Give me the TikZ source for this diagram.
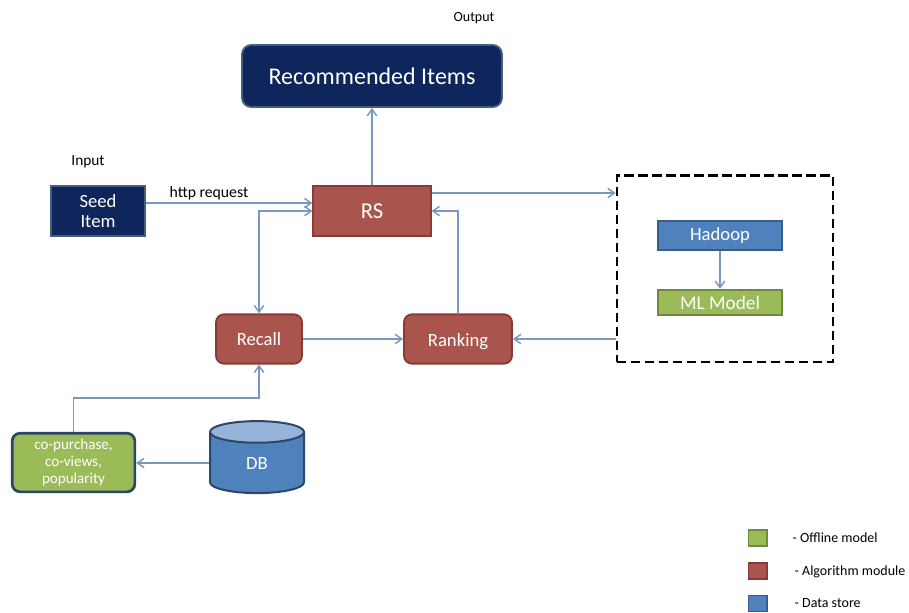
\documentclass[tikz,border=0pt]{standalone}
\usepackage{fontspec}
\setmainfont{Carlito}
\usetikzlibrary{arrows.meta, shapes.geometric}
\definecolor{navyfill}{RGB}{14,38,92}
\definecolor{navyline}{RGB}{70,92,128}
\definecolor{algofill}{RGB}{170,84,78}
\definecolor{algoline}{RGB}{138,58,54}
\definecolor{offfill}{RGB}{155,187,89}
\definecolor{offline}{RGB}{113,137,63}
\definecolor{datafill}{RGB}{79,129,189}
\definecolor{dataline}{RGB}{56,93,138}
\definecolor{datatop}{RGB}{150,180,218}
\definecolor{darkline}{RGB}{44,70,104}
\definecolor{linkcol}{RGB}{120,152,192}
\tikzset{barb/.tip = {Straight Barb[length = 5pt, width = 7pt]}}

\begin{document}
\begin{tikzpicture}[x = 0.75pt, y = -0.75pt,
    box/.style = {draw, line width = 1.4pt, inner sep = 0pt, align = center, text = white},
    navybox/.style = {box, fill = navyfill, draw = navyline},
    algobox/.style = {box, fill = algofill, draw = algoline},
    offbox/.style = {box, fill = offfill, draw = offline},
    databox/.style = {box, fill = datafill, draw = dataline},
    legendbox/.style = {draw, line width = 1pt, minimum width = 14pt, minimum height = 12pt},
    legendtext/.style = {anchor = west, font = \fontsize{10.5}{12}\selectfont},
    link/.style = {draw = linkcol, line width = 1.1pt, -barb}]
    % Margini
    \useasboundingbox (0,0) rectangle (909,612);
    % Output
    \node (outlabel) at (474,18) {\fontsize{10.5}{12}\selectfont Output};
    \node[navybox, rounded corners = 7pt, minimum width = 195pt, minimum height = 46.5pt,
        font = \fontsize{18}{20}\selectfont] (items) at (372,76) {Recommended Items};
    % Input
    \node (inlabel) at (88,162) {\fontsize{11.5}{13}\selectfont Input};
    \node[navybox, minimum width = 70pt, minimum height = 37pt,
        font = \fontsize{14}{14.5}\selectfont] (seed) at (98,211) {Seed\\Item};
    % Moduli dell'algoritmo
    \node[algobox, minimum width = 88pt, minimum height = 37pt,
        font = \fontsize{17}{19}\selectfont] (rs) at (372,211) {RS};
    \node[algobox, rounded corners = 6pt, minimum width = 64.5pt, minimum height = 37pt,
        font = \fontsize{14}{16}\selectfont] (recall) at (259,339) {Recall};
    \node[algobox, rounded corners = 6pt, minimum width = 81pt, minimum height = 37pt,
        text depth = 0pt, font = \fontsize{14}{16}\selectfont] (ranking) at (458,339) {Ranking\strut};
    % Blocco offline
    \node[draw, line width = 2pt, dash pattern = on 7pt off 3.5pt,
        minimum width = 162pt, minimum height = 140pt] (offlinebox) at (725,268.5) {};
    \node[databox, minimum width = 93pt, minimum height = 22pt,
        font = \fontsize{14}{16}\selectfont] (hadoop) at (720,235.5) {Hadoop};
    \node[offbox, minimum width = 93pt, minimum height = 19pt,
        font = \fontsize{14.5}{16}\selectfont] (mlmodel) at (720,302.5) {ML Model};
    % Dati
    \node[offbox, draw = darkline, line width = 2pt, rounded corners = 6pt,
        minimum width = 92pt, minimum height = 44pt,
        font = \fontsize{11.3}{12.5}\selectfont] (copurchase) at (73.5,462.5) {co-purchase,\\co-views,\\popularity};
    \node[cylinder, shape border rotate = 90, aspect = 1.0, draw = darkline, line width = 1.5pt,
        cylinder uses custom fill, cylinder body fill = datafill, cylinder end fill = datatop,
        minimum width = 70.5pt, minimum height = 54pt, inner sep = 0pt, text = white,
        font = \fontsize{14}{16}\selectfont] (db) at (257,463) {DB};
    % Connettori
    \draw[link] ([yshift = 6pt]seed.east) -- node[above, pos = 0.38, inner sep = 2pt,
        text = black, font = \fontsize{11.8}{13}\selectfont]{http request} ([yshift = 6pt]rs.west);
    \draw[link] (rs.north) -- (items.south);
    \draw[link] ([yshift = 13.5pt]rs.east) -- ([yshift = 13.5pt]rs.east -| offlinebox.west);
    \draw[link, barb-barb] (recall.north) |- (rs.west);
    \draw[link] (ranking.north) |- (rs.east);
    \draw[link] (recall.east) -- (ranking.west);
    \draw[link] (offlinebox.west |- ranking) -- (ranking.east);
    \draw[link] (hadoop.south) -- (mlmodel.north);
    \draw[link] (db.west) -- (copurchase.east |- db.west);
    \coordinate (bend) at (259,398);
    \draw[link] (copurchase.north) |- (bend) -- (recall.south);
    % Legenda
    \node[legendbox, fill = offfill, draw = offline] (leggreen) at (757.5,538) {};
    \node[legendbox, fill = algofill, draw = algoline] (legred) at (757.5,571) {};
    \node[legendbox, fill = datafill, draw = dataline] (legblue) at (757.5,603.5) {};
    \node[legendtext] (legoffline) at (788,538) {- Offline model};
    \node[legendtext] (legalgo) at (790,572) {- Algorithm module};
    \node[legendtext] (legdata) at (790,603) {- Data store};
\end{tikzpicture}
\end{document}
